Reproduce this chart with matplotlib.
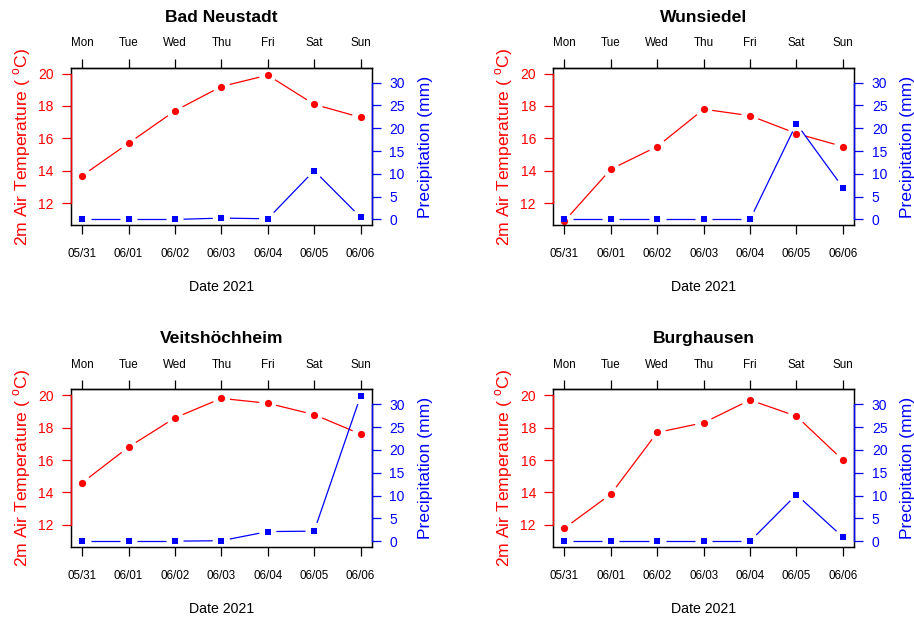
import numpy as np
import matplotlib
matplotlib.use("Agg")
import matplotlib.pyplot as plt
import matplotlib.transforms as mtransforms

plt.rcParams["font.family"] = ["Liberation Sans", "DejaVu Sans"]
plt.rcParams["mathtext.fontset"] = "custom"
plt.rcParams["mathtext.rm"] = "Liberation Sans"

# data
dates = ["05/31", "06/01", "06/02", "06/03", "06/04", "06/05", "06/06"]
days = ["Mon", "Tue", "Wed", "Thu", "Fri", "Sat", "Sun"]
stations = ["Bad Neustadt", "Wunsiedel", "Veitshöchheim", "Burghausen"]

temp_bad_neustadt = [13.7, 15.7, 17.7, 19.2, 19.9, 18.1, 17.3]
precip_bad_neustadt = [0.0, 0.0, 0.0, 0.3, 0.15, 10.7, 0.5]
temp_wunsiedel = [10.9, 14.1, 15.5, 17.8, 17.4, 16.3, 15.5]
precip_wunsiedel = [0.0, 0.0, 0.0, 0.0, 0.0, 21.0, 7.0]
temp_veitshoechheim = [14.6, 16.8, 18.6, 19.8, 19.5, 18.8, 17.6]
precip_veitshoechheim = [0.0, 0.0, 0.0, 0.1, 2.1, 2.2, 31.8]
temp_burghausen = [11.8, 13.9, 17.7, 18.3, 19.7, 18.7, 16.0]
precip_burghausen = [0.0, 0.0, 0.0, 0.0, 0.0, 10.2, 0.9]

temps = [temp_bad_neustadt, temp_wunsiedel, temp_veitshoechheim, temp_burghausen]
precips = [precip_bad_neustadt, precip_wunsiedel, precip_veitshoechheim, precip_burghausen]

temp_range = (11, 20)
precip_range = (0, 32)
temp_ticks = [12, 14, 16, 18, 20]
precip_ticks = [0, 5, 10, 15, 20, 25, 30]

RED = "#FF0000"
BLUE = "#0000FF"
W, H = 914, 620
DPI = 100


def r_lim(lo, hi):
    # R-style 4 % axis expansion
    d = (hi - lo) * 0.04
    return lo - d, hi + d


def gapped_line(ax, x, y, color, gap=8.6):
    # type="b": line segments that stop short of the points
    pts = ax.transData.transform(np.column_stack([x, y]))
    inv = ax.transData.inverted()
    for p0, p1 in zip(pts[:-1], pts[1:]):
        v = p1 - p0
        n = np.hypot(*v)
        if n <= 2 * gap:
            continue
        u = v / n
        seg = inv.transform(np.array([p0 + u * gap, p1 - u * gap]))
        ax.plot(seg[:, 0], seg[:, 1], color=color, lw=0.9, solid_capstyle="butt")


fig = plt.figure(figsize=(W / DPI, H / DPI), dpi=DPI)

# panel boxes in pixels: (left, top, right, bottom)
boxes = [(71, 67.7, 371.7, 225.3), (553.3, 67.7, 854, 225.3),
         (71, 389.3, 371.7, 547), (553.3, 389.3, 854, 547)]

x = np.arange(len(dates))
tick_len = 6.5

for name, t, p, (l, tp, r, b) in zip(stations, temps, precips, boxes):
    ax = fig.add_axes([l / W, 1 - b / H, (r - l) / W, (b - tp) / H])
    ax.set_xlim(r_lim(0, len(dates) - 1))
    ax.set_ylim(r_lim(*temp_range))
    ax2 = ax.twinx()
    ax2.set_ylim(r_lim(*precip_range))

    for a in (ax, ax2):
        for s in a.spines.values():
            s.set_color("black")
            s.set_linewidth(0.9)

    # temperature
    ax.plot(x, t, "o", color=RED, ms=5.2, mew=0)
    gapped_line(ax, x, t, RED)
    ax.set_yticks(temp_ticks)
    ax.tick_params(axis="y", colors=RED, labelsize=10, length=tick_len,
                   width=0.9, pad=6.0)
    ax.set_xticks(x, dates)
    ax.tick_params(axis="x", colors="black", labelsize=8.4, length=tick_len,
                   width=0.9, pad=10.0)

    # precipitation
    ax2.plot(x, p, "s", color=BLUE, ms=4.6, mew=0)
    gapped_line(ax2, x, p, BLUE)
    ax2.set_yticks(precip_ticks)
    ax2.tick_params(axis="y", colors=BLUE, labelsize=10, length=tick_len,
                    width=0.9, pad=6.3)

    # coloured axis lines over the black frame
    tl = mtransforms.blended_transform_factory(ax2.transAxes, ax.transData)
    ax2.plot([0, 0], [temp_ticks[0], temp_ticks[-1]], color=RED, lw=1.0,
             transform=tl, clip_on=False, zorder=3)
    tr = mtransforms.blended_transform_factory(ax2.transAxes, ax2.transData)
    ax2.plot([1, 1], [precip_ticks[0], precip_ticks[-1]], color=BLUE, lw=1.0,
             transform=tr, clip_on=False, zorder=3)

    # weekdays on top
    top = ax.secondary_xaxis("top")
    top.set_xticks(x, days)
    top.tick_params(colors="black", labelsize=8.4, length=tick_len, width=0.9, pad=7.0)
    top.spines["top"].set_linewidth(0.9)

    ax.annotate(name, xy=(0.5, 1), xycoords="axes fraction", xytext=(0, 36.3),
                textcoords="offset points", ha="center", va="center",
                fontsize=12.6, fontweight="bold")
    ax.annotate("2m Air Temperature ( $^{\\mathrm{o}}$C)", xy=(0, 0.5),
                xycoords="axes fraction", xytext=(-35.5, 0),
                textcoords="offset points", ha="center", va="center",
                rotation=90, fontsize=12.6, color=RED)
    ax.annotate("Precipitation (mm)", xy=(1, 0.5), xycoords="axes fraction",
                xytext=(38.4, 0), textcoords="offset points", ha="center",
                va="center", rotation=90, fontsize=12.6, color=BLUE)
    ax.annotate("Date 2021", xy=(0.5, 0), xycoords="axes fraction",
                xytext=(0, -44.6), textcoords="offset points", ha="center",
                va="center", fontsize=10.2)

fig.savefig("out.png", dpi=DPI)
